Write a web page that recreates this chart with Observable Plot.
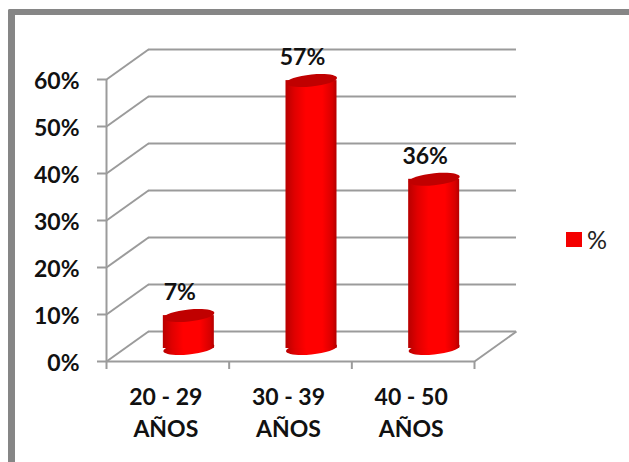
<!DOCTYPE html>
<html><head><meta charset="utf-8">
<script src="https://cdn.jsdelivr.net/npm/d3@7"></script>
<script src="https://cdn.jsdelivr.net/npm/@observablehq/plot@0.6"></script>
<style>
html,body{margin:0;padding:0;background:#fff;overflow:hidden}
#wrap{position:relative;width:629px;height:462px;font-family:Lato,sans-serif}
#border{position:absolute;left:8px;top:9px;width:640px;height:470px;border:solid #868686;border-width:6px 0 0 7px;border-radius:2px 0 0 0}
#chart{position:absolute;left:0;top:0}
#chart svg{background:transparent!important}
#sw{position:absolute;left:566px;top:232px;width:16px;height:15px;background:#f40000}
#lb{position:absolute;left:587px;top:225px;font-size:25px;line-height:28px;color:#222}
</style></head>
<body><div id="wrap"><div id="border"></div><div id="chart"></div><div id="sw"></div><div id="lb">%</div></div>
<script>
const categories = ["20 - 29\nAÑOS", "30 - 39\nAÑOS", "40 - 50\nAÑOS"];
const values = [7, 57, 36];
const yTicks = [0, 10, 20, 30, 40, 50, 60];
const xEdges = [0, 1, 2, 3];
const bars = categories.map((c, i) => ({c, i, v: values[i]}));

const W = 629, H = 462, mL = 106, mR = 155, mT = 79, mB = 101;
const unitX = (W - mL - mR) / 3, unitY = (H - mT - mB) / 60;
const depthX = 42 / unitX, depthY = 30 / unitY;
const halfBar = 25.5 / unitX;
const grey = "#9b9b9b";

// tilted ellipse as a symbol: rx, ry with a small upward slope to the right
function ellipseSymbol(rx, ry, tilt) {
  return {draw(ctx) {
    const k = 0.5523;
    const p = (a, b) => [a * rx, b * ry - a * tilt];
    const seq = [[[1,-k],[k,-1],[0,-1]],[[-k,-1],[-1,-k],[-1,0]],[[-1,k],[-k,1],[0,1]],[[k,1],[1,k],[1,0]]];
    ctx.moveTo(...p(1, 0));
    for (const [a, b, c] of seq) ctx.bezierCurveTo(...p(...a), ...p(...b), ...p(...c));
    ctx.closePath();
  }};
}
const cap = ellipseSymbol(25.5, 6, 2.5);

const chart = Plot.plot({
  width: W, height: H,
  marginLeft: mL, marginRight: mR, marginTop: mT, marginBottom: mB,
  style: {background: "transparent", fontFamily: "Lato, sans-serif"},
  x: {type: "linear", domain: [0, 3]},
  y: {domain: [0, 60]},
  marks: [
    // back wall lines
    Plot.ruleY(yTicks, {x1: depthX, x2: 3 + depthX, y: d => d + depthY, stroke: grey, strokeWidth: 2}),
    // side diagonals
    Plot.link(yTicks, {x1: 0, x2: depthX, y1: d => d, y2: d => d + depthY, stroke: grey, strokeWidth: 2}),
    Plot.link([0], {x1: 3, x2: 3 + depthX, y1: d => d, y2: d => d + depthY, stroke: grey, strokeWidth: 2}),
    // axes lines and ticks
    Plot.ruleX([0], {y1: 0, y2: 60, stroke: grey, strokeWidth: 2}),
    Plot.ruleY([0], {x1: 0, x2: 3, stroke: grey, strokeWidth: 2}),
    Plot.axisY(yTicks, {text: null, tickSize: 9, stroke: grey, strokeWidth: 2, label: null}),
    Plot.axisX(xEdges, {text: null, tickSize: 8, stroke: grey, strokeWidth: 2, label: null}),
    Plot.axisY(yTicks, {tickSize: 0, tickPadding: 27, tickFormat: d => d + "%", fontSize: 23, fontWeight: 700, fill: "#111", dy: 2, label: null}),
    Plot.axisX(bars.map(b => b.i + 0.5), {tickSize: 0, tickPadding: 20, tickFormat: d => categories[Math.floor(d)], fontSize: 23, fontWeight: 700, fill: "#111", dx: -2, lineHeight: 1.42, textAnchor: "middle", label: null}),
    // cylinders
    Plot.dot(bars, {x: d => d.i + 0.5, y: 0, symbol: cap, r: 1, fill: "url(#cyl)", stroke: null, dx: 21, dy: -13}),
    Plot.rectY(bars, {x1: d => d.i + 0.5 - halfBar, x2: d => d.i + 0.5 + halfBar, y1: 0, y2: "v", fill: "url(#cyl)", dx: 21, dy: -13}),
    Plot.dot(bars, {x: d => d.i + 0.5, y: "v", symbol: cap, r: 1, fill: "#c00000", stroke: null, dx: 21, dy: -13}),
    // value labels
    Plot.text(bars, {x: d => d.i + 0.5, y: "v", text: d => d.v + "%", dx: 12, dy: -36, fontSize: 23, fontWeight: 700, fill: "#111"}),
    () => {
      const s = d3.create("svg:defs");
      const g = s.append("linearGradient").attr("id", "cyl").attr("x1", 0).attr("x2", 1).attr("y1", 0).attr("y2", 0);
      [[0, "#b80000"], [0.18, "#e00000"], [0.4, "#ff0000"], [0.72, "#ff0000"], [0.92, "#d80000"], [1, "#b40000"]]
        .forEach(([o, c]) => g.append("stop").attr("offset", o).attr("stop-color", c));
      return s.node();
    }
  ]
});
document.getElementById("chart").appendChild(chart);
</script></body></html>
